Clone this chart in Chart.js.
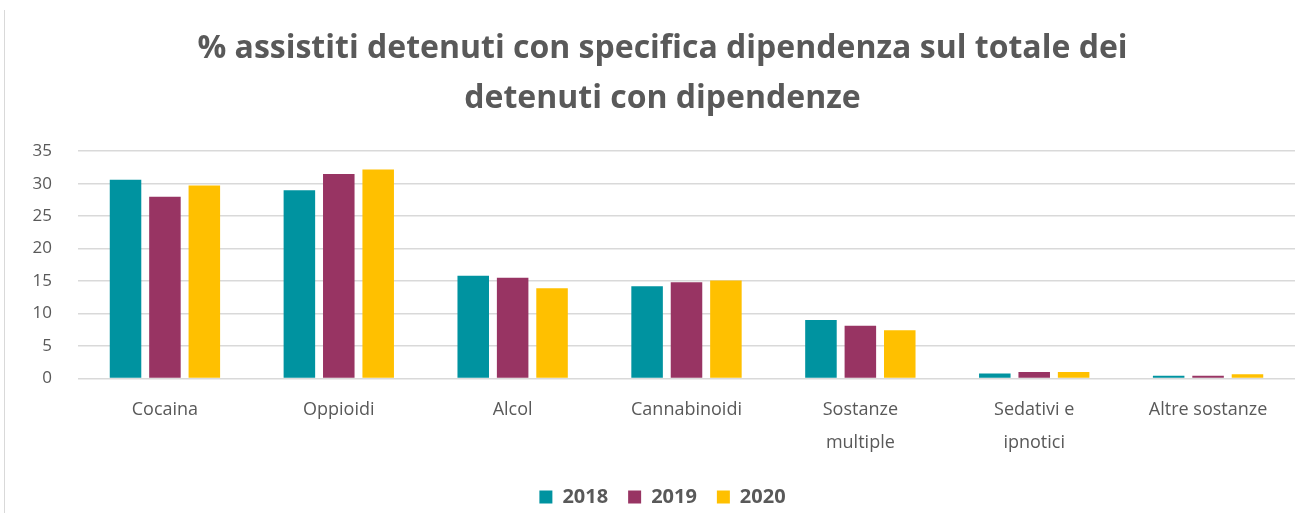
<!DOCTYPE html>
<html>
<head>
<meta charset="utf-8">
<script src="https://cdn.jsdelivr.net/npm/chart.js@4.4.1/dist/chart.umd.min.js"></script>
<style>
  html, body { margin: 0; padding: 0; background: #fff; }
  #wrap { position: relative; width: 1312px; height: 513px; }
  #edge { position: absolute; left: 4px; top: 10px; bottom: 0; border-left: 1px solid #d9d9d9; }
</style>
</head>
<body>
<div id="wrap">
  <div id="edge"></div>
  <canvas id="myChart" width="1312" height="513"></canvas>
</div>
<script>
// dati
const categories = ['Cocaina', 'Oppioidi', 'Alcol', 'Cannabinoidi', ['Sostanze', 'multiple'], ['Sedativi e', 'ipnotici'], 'Altre sostanze'];
const years = ['2018', '2019', '2020'];
const values2018 = [30.6, 29.0, 15.8, 14.2, 9.0, 0.75, 0.4];
const values2019 = [28.0, 31.5, 15.5, 14.8, 8.1, 1.0, 0.4];
const values2020 = [29.7, 32.2, 13.9, 15.1, 7.4, 1.0, 0.65];
const colors = ['#0093a0', '#983463', '#ffc000'];
const yTicks = [0, 5, 10, 15, 20, 25, 30, 35];

const grey = '#595959';
const series = [values2018, values2019, values2020];

const config = {
  type: 'bar',
  data: {
    labels: categories,
    datasets: years.map((y, i) => ({
      label: y,
      data: series[i],
      backgroundColor: colors[i],
      categoryPercentage: 0.68,
      barPercentage: 0.8
    }))
  },
  options: {
    responsive: false,
    animation: false,
    layout: { padding: { left: 30, right: 17, top: 8, bottom: -4 } },
    plugins: {
      title: {
        display: true,
        text: ['% assistiti detenuti con specifica dipendenza sul totale dei', 'detenuti con dipendenze'],
        color: grey,
        font: { family: 'Open Sans', size: 32, weight: 'bold', lineHeight: 1.55 },
        padding: { top: 16, bottom: 28 }
      },
      legend: {
        position: 'bottom',
        labels: {
          color: grey,
          font: { family: 'Open Sans', size: 20, weight: 'bold' },
          boxWidth: 13,
          boxHeight: 13,
          padding: 20
        }
      },
      tooltip: { enabled: false }
    },
    scales: {
      x: {
        grid: { display: false },
        border: { display: false },
        ticks: {
          color: grey,
          font: { family: 'Open Sans', size: 18, lineHeight: 1.85 },
          padding: 7,
          maxRotation: 0
        }
      },
      y: {
        min: 0,
        max: 35,
        afterBuildTicks: (axis) => { axis.ticks = yTicks.map(v => ({ value: v })); },
        afterFit: (axis) => { axis.width = 48; },
        grid: { color: '#d9d9d9', lineWidth: 1.5, drawTicks: false },
        border: { display: false },
        ticks: {
          color: grey,
          font: { family: 'Open Sans', size: 17 },
          padding: 26
        }
      }
    }
  }
};

const ctx = document.getElementById('myChart');
const chart = new Chart(ctx, config);
</script>
</body>
</html>
